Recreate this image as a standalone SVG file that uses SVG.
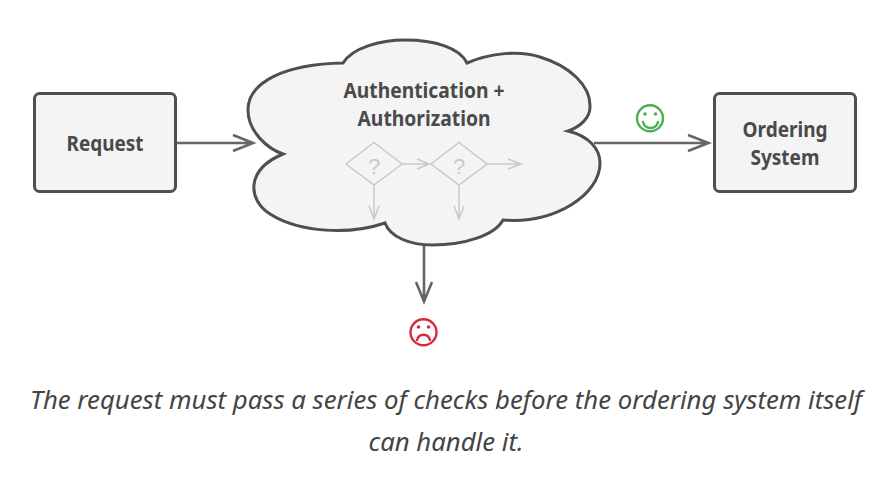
<svg xmlns="http://www.w3.org/2000/svg" width="893" height="486" viewBox="0 0 893 486">
<style>
text{font-family:"Noto Sans","Open Sans","Liberation Sans",sans-serif;text-anchor:middle}
.box{fill:#f4f4f4;stroke:#4f4f4f;stroke-width:3}
.lbl{font-size:21px;font-weight:700;fill:#4a4a4a}
.cap{font-size:26px;font-style:italic;fill:#444}
.con{fill:none;stroke:#666;stroke-width:2.6;stroke-linejoin:miter}
.faint{fill:none;stroke:#c9c9c9;stroke-width:1.5}
</style>
<rect width="893" height="486" fill="#fff"/>
<g id="connectors">
<path class="con" d="M177 143H252M233 135L253 143L233 151"/>
<path class="con" d="M594 143H707M688 135L708.500 143L688 151"/>
<path class="con" d="M424 243V300M416 282L424 301.500L432 282"/>
</g>
<g id="request"><rect class="box" x="34.500" y="93.500" width="141" height="98" rx="5"/>
<text class="lbl" x="105" y="151" textLength="77" lengthAdjust="spacingAndGlyphs">Request</text></g>
<g id="ordering-system"><rect class="box" x="714.500" y="93.500" width="141" height="98" rx="5"/>
<text class="lbl" x="785" y="137" textLength="85" lengthAdjust="spacingAndGlyphs">Ordering</text>
<text class="lbl" x="785" y="165" textLength="69" lengthAdjust="spacingAndGlyphs">System</text></g>
<g id="auth-cloud">
<path d="M283 154C268 149 248 132 248 110C248 82 285 64 343 63C352 48 380 40 405 40C435 40 460 48 467 63C490 53 520 50 540 57C570 66 591 86 590 107C590 118 580 127 568 131C588 136 600 148 600 163C600 195 555 224 503 220C495 235 465 245 432 245C410 245 390 237 385 223C350 235 300 233 270 214C248 200 245 170 283 154Z" fill="#f4f4f4" stroke="#4f4f4f" stroke-width="3" stroke-linejoin="miter"/>
<text class="lbl" x="424" y="98" textLength="161" lengthAdjust="spacingAndGlyphs">Authentication +</text>
<text class="lbl" x="424" y="126" textLength="133" lengthAdjust="spacingAndGlyphs">Authorization</text>
<path class="faint" d="M346 164L374 142.500L402 164L374 185ZM431 164L459 142.500L487 164L459 185ZM402 164H428M417 159L429 164L417 169M487 164H520M508 159L521 164L508 169M374 185V218M369 206L374 219L379 206M459 185V218M454 206L459 219L464 206"/>
<text x="374" y="174" font-size="22" fill="#c9c9c9" style="font-family:'Liberation Sans',sans-serif">?</text>
<text x="459" y="174" font-size="22" fill="#c9c9c9" style="font-family:'Liberation Sans',sans-serif">?</text>
</g>
<g id="smile" fill="none" stroke="#4caf50" stroke-width="2.400">
<circle cx="650" cy="118.300" r="13"/><path d="M643 122C645 130 656 130 658 122" stroke-linecap="round"/>
<circle cx="645" cy="114" r="1.800" fill="#4caf50" stroke="none"/><circle cx="655.500" cy="114" r="1.800" fill="#4caf50" stroke="none"/></g>
<g id="frown" fill="none" stroke="#d9283f" stroke-width="2.400">
<circle cx="423.500" cy="332.300" r="13"/><path d="M417 340C419 333 428 333 430 340" stroke-linecap="round"/>
<circle cx="418.500" cy="327" r="1.800" fill="#d9283f" stroke="none"/><circle cx="428.500" cy="327" r="1.800" fill="#d9283f" stroke="none"/></g>
<g id="caption">
<text class="cap" x="446" y="409" textLength="832" lengthAdjust="spacingAndGlyphs">The request must pass a series of checks before the ordering system itself</text>
<text class="cap" x="446" y="451" textLength="155" lengthAdjust="spacingAndGlyphs">can handle it.</text></g>
</svg>
